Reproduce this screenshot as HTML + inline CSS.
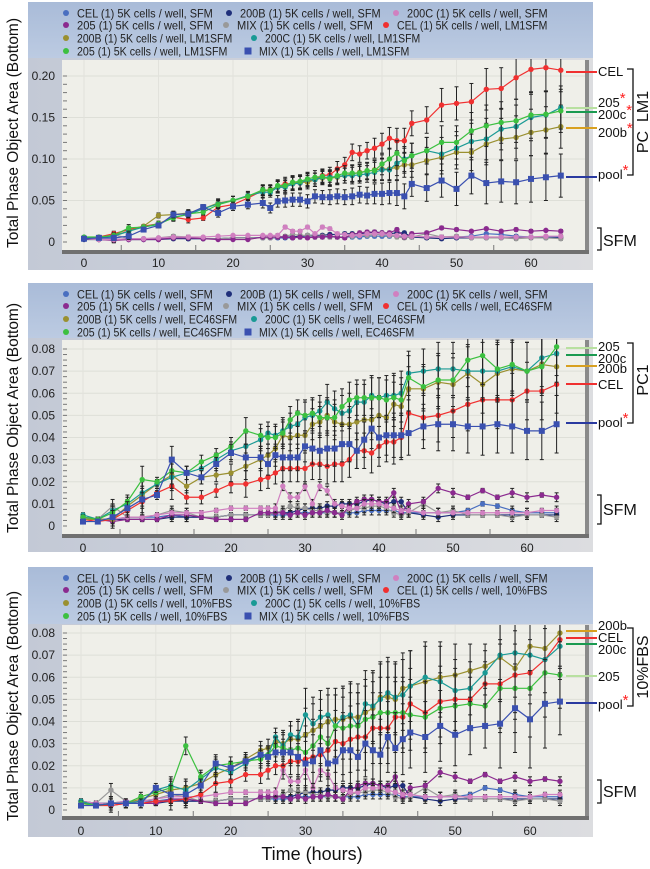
<!DOCTYPE html>
<html><head><meta charset="utf-8"><style>
body{margin:0;background:#fff;}
svg{display:block;font-family:"Liberation Sans",Arial,sans-serif;}
</style></head><body>
<svg id="fig" width="650" height="869" viewBox="0 0 650 869" xmlns="http://www.w3.org/2000/svg">
<defs>
<linearGradient id="lg" x1="0" y1="0" x2="0" y2="1"><stop offset="0" stop-color="#a9bbd8"/><stop offset="1" stop-color="#bccbe2"/></linearGradient>
<linearGradient id="fg" x1="0" y1="0" x2="1" y2="0"><stop offset="0" stop-color="#c3c9d6"/><stop offset="1" stop-color="#dcdde0"/></linearGradient>
</defs>
<g id="root"></g>
<text x="312" y="860" font-size="18" text-anchor="middle" fill="#111">Time (hours)</text>
</svg>
<script>
// shared time points (hours)
const times = [0,2,4,6,8,10,12,14,16,18,20,22,24,25,26,27,28,29,30,31,32,33,34,35,36,37,38,39,40,41,42,43,44,46,48,50,52,54,56,58,60,62,64];
const xTicks = [0,10,20,30,40,50,60];
const yTicks1 = [0,0.05,0.10,0.15,0.20];
const yTickLabels1 = ["0","0.05","0.10","0.15","0.20"];
const yTicks23 = [0,0.01,0.02,0.03,0.04,0.05,0.06,0.07,0.08];
const yTickLabels23 = ["0","0.01","0.02","0.03","0.04","0.05","0.06","0.07","0.08"];

// SFM controls (same wells in every panel)
const sfmCEL  = [.004,.003,.003,.004,.004,.004,.005,.004,.004,.004,.005,.005,.005,.005,.005,.005,.005,.006,.006,.006,.006,.006,.006,.006,.006,.006,.007,.007,.007,.007,.007,.006,.006,.006,.006,.006,.007,.010,.009,.007,.006,.006,.006];
const sfm200B = [.003,.003,.003,.003,.003,.003,.004,.004,.004,.004,.005,.005,.005,.005,.006,.006,.006,.007,.008,.008,.008,.009,.009,.010,.010,.010,.011,.012,.011,.010,.011,.011,.006,.005,.004,.005,.005,.005,.005,.005,.005,.005,.005];
const sfm200C = [.004,.003,.003,.004,.004,.005,.006,.006,.006,.007,.008,.008,.008,.008,.008,.018,.013,.013,.018,.010,.018,.016,.010,.009,.008,.008,.010,.010,.010,.009,.008,.007,.007,.006,.006,.006,.006,.006,.006,.006,.006,.007,.007];
const sfm205  = [.004,.003,.002,.003,.003,.003,.005,.005,.004,.003,.003,.003,.006,.006,.006,.006,.005,.006,.005,.006,.006,.007,.006,.005,.009,.011,.012,.012,.011,.011,.015,.006,.010,.011,.017,.015,.013,.016,.013,.015,.013,.014,.013];
const sfmMIX  = [.004,.003,.009,.004,.004,.005,.007,.006,.004,.004,.005,.005,.005,.005,.006,.007,.009,.008,.008,.007,.007,.006,.006,.006,.007,.008,.008,.009,.009,.008,.006,.005,.006,.010,.006,.007,.005,.005,.005,.004,.005,.005,.004];
const sfmErr  = [.001,.001,.003,.001,.001,.001,.002,.002,.001,.001,.001,.001,.001,.001,.002,.002,.002,.002,.002,.002,.002,.002,.002,.002,.002,.002,.002,.002,.002,.002,.002,.002,.002,.002,.002,.002,.001,.001,.001,.002,.002,.001,.002];

// Panel 1: LM1SFM
const p1CEL  = [.005,.006,.010,.015,.019,.022,.030,.027,.029,.042,.045,.053,.062,.062,.067,.070,.070,.071,.074,.075,.080,.081,.088,.093,.108,.106,.110,.113,.118,.125,.122,.122,.143,.147,.165,.167,.169,.184,.185,.198,.208,.210,.207];
const p1B200 = [.005,.005,.008,.013,.019,.032,.033,.035,.040,.047,.050,.055,.062,.063,.066,.068,.071,.072,.072,.075,.077,.077,.078,.080,.082,.084,.085,.087,.088,.088,.090,.093,.093,.098,.102,.108,.108,.118,.124,.126,.132,.135,.139];
const p1C200 = [.005,.005,.007,.013,.018,.021,.030,.033,.040,.046,.050,.056,.060,.060,.066,.066,.070,.071,.075,.075,.078,.078,.079,.080,.080,.081,.082,.084,.087,.087,.095,.100,.104,.110,.106,.113,.121,.124,.136,.139,.150,.153,.162];
const p1S205 = [.006,.006,.008,.017,.018,.022,.029,.034,.036,.045,.050,.055,.063,.062,.068,.068,.072,.073,.076,.078,.079,.076,.080,.083,.083,.083,.086,.086,.094,.100,.107,.098,.104,.110,.120,.120,.134,.140,.144,.146,.153,.154,.158];
const p1MIX  = [.004,.005,.005,.007,.015,.020,.033,.034,.042,.035,.043,.045,.047,.041,.049,.050,.051,.051,.049,.055,.054,.054,.055,.054,.055,.057,.056,.058,.058,.059,.059,.055,.070,.065,.074,.064,.080,.071,.073,.072,.076,.078,.080];
const p1Err  = [.001,.001,.003,.004,.002,.003,.004,.004,.003,.005,.005,.005,.006,.006,.007,.008,.008,.008,.008,.008,.008,.009,.009,.009,.010,.010,.010,.012,.013,.013,.015,.015,.015,.016,.020,.020,.022,.025,.025,.026,.028,.028,.026];

// Panel 2: EC46SFM
const p2CEL  = [.003,.002,.003,.007,.011,.015,.018,.013,.013,.016,.019,.019,.021,.022,.024,.026,.026,.026,.026,.028,.028,.027,.028,.028,.030,.034,.034,.033,.036,.038,.038,.040,.051,.049,.050,.052,.055,.057,.057,.057,.061,.061,.064];
const p2B200 = [.003,.003,.003,.009,.014,.019,.023,.018,.022,.023,.024,.027,.030,.032,.035,.041,.040,.041,.041,.046,.047,.050,.047,.046,.046,.047,.048,.048,.050,.049,.055,.054,.062,.062,.065,.064,.069,.064,.069,.071,.070,.073,.072];
const p2C200 = [.005,.003,.007,.010,.015,.019,.022,.024,.026,.030,.034,.036,.039,.042,.041,.043,.045,.046,.049,.050,.052,.056,.053,.051,.052,.056,.056,.059,.058,.059,.059,.060,.069,.070,.071,.071,.070,.070,.070,.072,.070,.076,.078];
const p2S205 = [.004,.003,.006,.011,.021,.020,.025,.024,.029,.032,.036,.043,.041,.040,.040,.042,.048,.051,.050,.051,.049,.049,.049,.054,.057,.058,.058,.058,.058,.057,.058,.057,.067,.063,.066,.066,.075,.077,.071,.073,.070,.072,.081];
const p2MIX  = [.002,.002,.004,.008,.012,.014,.030,.024,.022,.028,.033,.031,.031,.028,.032,.031,.031,.031,.036,.035,.034,.035,.035,.037,.037,.034,.039,.044,.040,.041,.041,.041,.042,.045,.046,.046,.045,.045,.046,.045,.043,.043,.046];
const p2Err  = [.001,.001,.003,.003,.006,.002,.006,.003,.003,.003,.004,.006,.005,.005,.005,.006,.006,.006,.007,.007,.007,.008,.008,.008,.008,.008,.008,.009,.009,.009,.010,.010,.010,.010,.012,.012,.012,.013,.013,.012,.013,.013,.013];

// Panel 3: 10%FBS
const p3CEL  = [.003,.002,.002,.003,.003,.004,.004,.005,.007,.012,.013,.016,.016,.018,.020,.020,.022,.022,.023,.024,.025,.027,.031,.030,.032,.033,.033,.037,.037,.037,.042,.042,.048,.044,.049,.050,.050,.057,.057,.061,.062,.068,.077];
const p3B200 = [.004,.002,.003,.003,.005,.007,.009,.010,.012,.016,.019,.023,.027,.028,.031,.030,.032,.032,.034,.036,.038,.040,.041,.041,.042,.042,.044,.046,.051,.051,.050,.055,.056,.058,.060,.061,.063,.065,.069,.064,.074,.073,.080];
const p3C200 = [.004,.002,.003,.003,.004,.009,.011,.009,.014,.019,.017,.021,.025,.025,.033,.029,.034,.033,.043,.039,.042,.043,.038,.042,.043,.038,.048,.047,.050,.053,.051,.052,.056,.060,.058,.054,.055,.062,.070,.071,.070,.068,.074];
const p3S205 = [.003,.002,.003,.003,.006,.008,.010,.029,.015,.020,.021,.022,.023,.025,.029,.028,.027,.028,.026,.029,.033,.030,.038,.037,.038,.038,.041,.042,.044,.044,.044,.044,.043,.042,.046,.047,.048,.047,.055,.055,.055,.062,.061];
const p3MIX  = [.002,.002,.003,.003,.003,.010,.007,.007,.011,.021,.019,.022,.025,.024,.026,.026,.026,.024,.021,.022,.027,.021,.022,.027,.027,.024,.030,.027,.025,.033,.028,.032,.035,.033,.038,.034,.037,.038,.039,.046,.041,.048,.049];
const p3Err  = [.001,.001,.002,.002,.002,.002,.004,.004,.003,.004,.003,.003,.004,.004,.004,.006,.006,.008,.012,.012,.012,.012,.014,.014,.015,.015,.015,.016,.016,.016,.016,.016,.016,.016,.016,.014,.012,.010,.020,.020,.022,.020,.015];

const NS = "http://www.w3.org/2000/svg";
const root = document.getElementById('root');
const defs = document.querySelector('defs');
function mk(tag, attrs, parent){ const e=document.createElementNS(NS,tag); for(const k in attrs) e.setAttribute(k,attrs[k]); (parent||root).appendChild(e); return e; }

const COL = {cel:"#4a6fc0", b200:"#1f2f7a", c200:"#d080c0", s205:"#8b2a8f", mix:"#999999",
  tCEL:"#f03030", tB200:"#9a9030", tC200:"#1a9a95", tS205:"#3cc040", tMIX:"#3a50b0"};

const panels = [
 {id:"lm1", cond:"LM1SFM", fy:2, fb:270, lb:58, pt:60, pb:251, x0:84, x60:531, y0:242, ytopV:.20, ytopY:76,
  ticks:yTicks1, tlabels:yTickLabels1, minor:.01, xl:263, title:"Total Phase Object Area (Bottom)", tcy:133,
  data:[p1CEL,p1B200,p1C200,p1S205,p1MIX], err:p1Err},
 {id:"pc1", cond:"EC46SFM", fy:283, fb:552, lb:338, pt:340, pb:535, x0:83, x60:527, y0:526, ytopV:.08, ytopY:349,
  ticks:yTicks23, tlabels:yTickLabels23, minor:.0025, xl:548, title:"Total Phase Object Area (Bottom)", tcy:418,
  data:[p2CEL,p2B200,p2C200,p2S205,p2MIX], err:p2Err},
 {id:"fbs", cond:"10%FBS", fy:567, fb:837, lb:624, pt:625, pb:817, x0:81, x60:530, y0:810, ytopV:.08, ytopY:633,
  ticks:yTicks23, tlabels:yTickLabels23, minor:.0025, xl:831, title:"Total Phase Object Area (Bottom)", tcy:706,
  data:[p3CEL,p3B200,p3C200,p3S205,p3MIX], err:p3Err}
];

panels.forEach(P=>{
  const g = mk('g',{});
  
  
  const cp = mk('clipPath',{id:'clip-'+P.id},defs);
  mk('rect',{x:62,y:P.lb+1,width:525,height:P.pb-P.lb-2},cp);
  const X = t => P.x0 + (P.x60-P.x0)*t/60;
  const Y = v => P.y0 - (P.y0-P.ytopY)*v/P.ytopV;
  mk('rect',{x:28,y:P.fy,width:565,height:P.fb-P.fy,fill:"url(#fg)"},g);
  const lgBg = mk('rect',{x:28,y:P.fy,width:565,height:P.lb-P.fy,fill:"url(#lg)"},g);
  
  
  const pa = mk('rect',{x:62,y:P.pt,width:525,height:P.pb-P.pt,fill:"#efefe9"},g);
  
  
  P.ticks.forEach(v=>{ if(v>0) mk('line',{x1:62,x2:587,y1:Y(v),y2:Y(v),stroke:"#dedfd8","stroke-width":1},g); });
  xTicks.forEach(t=>{ mk('line',{x1:X(t),x2:X(t),y1:P.pt,y2:P.pb,stroke:"#e2e2dc","stroke-width":1},g); });
  mk('rect',{x:585,y:P.pt,width:4,height:P.pb-P.pt+3,fill:"#8a8a8a"},g);
  mk('rect',{x:62,y:P.pb-1,width:527,height:4,fill:"#707070"},g);
  for(let v=0; v<=P.ytopV+1e-9; v+=P.minor){ mk('line',{x1:63,x2:67,y1:Y(v),y2:Y(v),stroke:"#777","stroke-width":1},g); }
  for(let t=5;t<=64;t+=10){ mk('line',{x1:X(t),x2:X(t),y1:P.pb-6,y2:P.pb-1,stroke:"#777"},g); }
  P.ticks.forEach((v,i)=>{
    const tx = mk('text',{x:55,y:Y(v)+4,"font-size":12,"text-anchor":"end",fill:"#222"},g);
    tx.textContent = P.tlabels[i];
    
    
  });
  xTicks.forEach(t=>{
    const tx = mk('text',{x:X(t),y:P.xl+4,"font-size":12,"text-anchor":"middle",fill:"#222"},g);
    tx.textContent = t;
    
    
  });
  const yt = mk('text',{x:0,y:0,"font-size":15.5,"text-anchor":"middle",fill:"#111",transform:`translate(18,${P.tcy}) rotate(-90)`},g);
  yt.textContent = P.title;
  
  

  const series = [
    {v:sfmCEL,e:sfmErr,c:COL.cel,n:"cel-sfm"},{v:sfm200B,e:sfmErr,c:COL.b200,n:"200b-sfm"},
    {v:sfmMIX,e:sfmErr,c:COL.mix,n:"mix-sfm"},{v:sfm205,e:sfmErr,c:COL.s205,n:"205-sfm"},
    {v:sfm200C,e:sfmErr,c:COL.c200,n:"200c-sfm"},
    {v:P.data[0],e:P.err,c:COL.tCEL,n:"cel-treated"},{v:P.data[1],e:P.err,c:COL.tB200,n:"200b-treated"},
    {v:P.data[2],e:P.err,c:COL.tC200,n:"200c-treated"},{v:P.data[3],e:P.err,c:COL.tS205,n:"205-treated"},
    {v:P.data[4],e:P.err,c:COL.tMIX,n:"mix-treated",sq:true}
  ];
  const sAll = mk('g',{'clip-path':`url(#clip-${P.id})`},g);
  series.forEach(s=>{
    const sg = mk('g',{},sAll);
    
    
    s.v.forEach((v,i)=>{
      const x=X(times[i]), e=s.e[i];
      mk('line',{x1:x,x2:x,y1:Y(v+e),y2:Y(v-e),stroke:"#222","stroke-width":1},sg);
      mk('line',{x1:x-2,x2:x+2,y1:Y(v+e),y2:Y(v+e),stroke:"#222","stroke-width":1},sg);
      mk('line',{x1:x-2,x2:x+2,y1:Y(v-e),y2:Y(v-e),stroke:"#222","stroke-width":1},sg);
    });
    mk('polyline',{points:s.v.map((v,i)=>X(times[i])+','+Y(v)).join(' '),fill:"none",stroke:s.c,"stroke-width":1.2},sg);
    s.v.forEach((v,i)=>{
      let m;
      if(s.sq) m = mk('rect',{x:X(times[i])-3,y:Y(v)-3,width:6,height:6,fill:s.c},sg);
      else m = mk('circle',{cx:X(times[i]),cy:Y(v),r:2.7,fill:s.c},sg);
      
      
    });
  });

  const L = P.fy;
  const items = [
    [66,12,COL.cel,"CEL (1) 5K cells / well, SFM"],[229,12,COL.b200,"200B (1) 5K cells / well, SFM"],[396,12,COL.c200,"200C (1) 5K cells / well, SFM"],
    [66,24,COL.s205,"205 (1) 5K cells / well, SFM"],[226,24,COL.mix,"MIX (1) 5K cells / well, SFM"],[386,24,COL.tCEL,"CEL (1) 5K cells / well, "+P.cond],
    [66,37,COL.tB200,"200B (1) 5K cells / well, "+P.cond],[254,37,COL.tC200,"200C (1) 5K cells / well, "+P.cond],
    [66,50,COL.tS205,"205 (1) 5K cells / well, "+P.cond],[248,50,COL.tMIX,"MIX (1) 5K cells / well, "+P.cond,true]
  ];
  items.forEach(it=>{
    const lg = mk('g',{},g);
    
    
    const yy = L + it[1] - 1;
    if(it[4]) mk('rect',{x:it[0]-3.5,y:yy-3.5,width:7,height:7,fill:it[2]},lg);
    else mk('circle',{cx:it[0],cy:yy,r:3,fill:it[2]},lg);
    const tx = mk('text',{x:it[0]+11,y:yy+4.5,"font-size":12,fill:"#222",textLength:it[3].length*4.85,lengthAdjust:"spacingAndGlyphs"},lg);
    tx.textContent = it[3];
  });
});

function ann(y1, ly, color, label, star){
  const g = mk('g',{});
  
  
  mk('line',{x1:566,x2:597,y1:y1,y2:y1,stroke:color,"stroke-width":2},g);
  const t = mk('text',{x:598,y:ly+5,"font-size":13,fill:"#111"},g);
  t.textContent = label;
  if(star){ const s = mk('tspan',{fill:"#ff2020","font-size":15,dy:-4},t); s.textContent="*"; }
}
function bracket(y1,y2,name){
  const g = mk('g',{});
  
  
  mk('polyline',{points:`627,${y1} 633,${y1} 633,${y2} 627,${y2}`,fill:"none",stroke:"#111","stroke-width":1.3},g);
}
function sfm(y1,y2,ty){
  const g = mk('g',{});
  
  
  mk('polyline',{points:`597,${y1} 601,${y1} 601,${y2} 597,${y2}`,fill:"none",stroke:"#111","stroke-width":1.3},g);
  const t = mk('text',{x:603,y:ty+6,"font-size":16,fill:"#111"},g); t.textContent="SFM";
}
function vlabel(x,y,txt){
  const t = mk('text',{x:0,y:0,"font-size":16,"text-anchor":"middle",fill:"#111",transform:`translate(${x},${y}) rotate(-90)`});
  t.textContent = txt;
  
  
}
ann(72,71,"#f03030","CEL",false); ann(108,102,"#b8e0a0","205",true); ann(112,114,"#1a9a50","200c",true);
ann(128,132,"#d8a020","200b",true); ann(177,174,"#2a3aa0","pool",true);
bracket(69,175,"pc-lm1-bracket"); vlabel(648,122,"PC_LM1"); sfm(228,250,240);
ann(348,346,"#b8e0a0","205",false); ann(355,358,"#1a9a50","200c",false); ann(366,368,"#d8a020","200b",false);
ann(384,384,"#f03030","CEL",false); ann(423,422,"#2a3aa0","pool",true);
bracket(343,423,"pc1-bracket"); vlabel(648,380,"PC1"); sfm(495,524,509);
ann(631,625,"#d8a020","200b",false); ann(638,637,"#f03030","CEL",false); ann(644,649,"#1a9a50","200c",false);
ann(676,676,"#b8e0a0","205",false); ann(703,704,"#2a3aa0","pool",true);
bracket(628,706,"fbs-bracket"); vlabel(648,667,"10%FBS"); sfm(780,803,791);
</script>
</body></html>
